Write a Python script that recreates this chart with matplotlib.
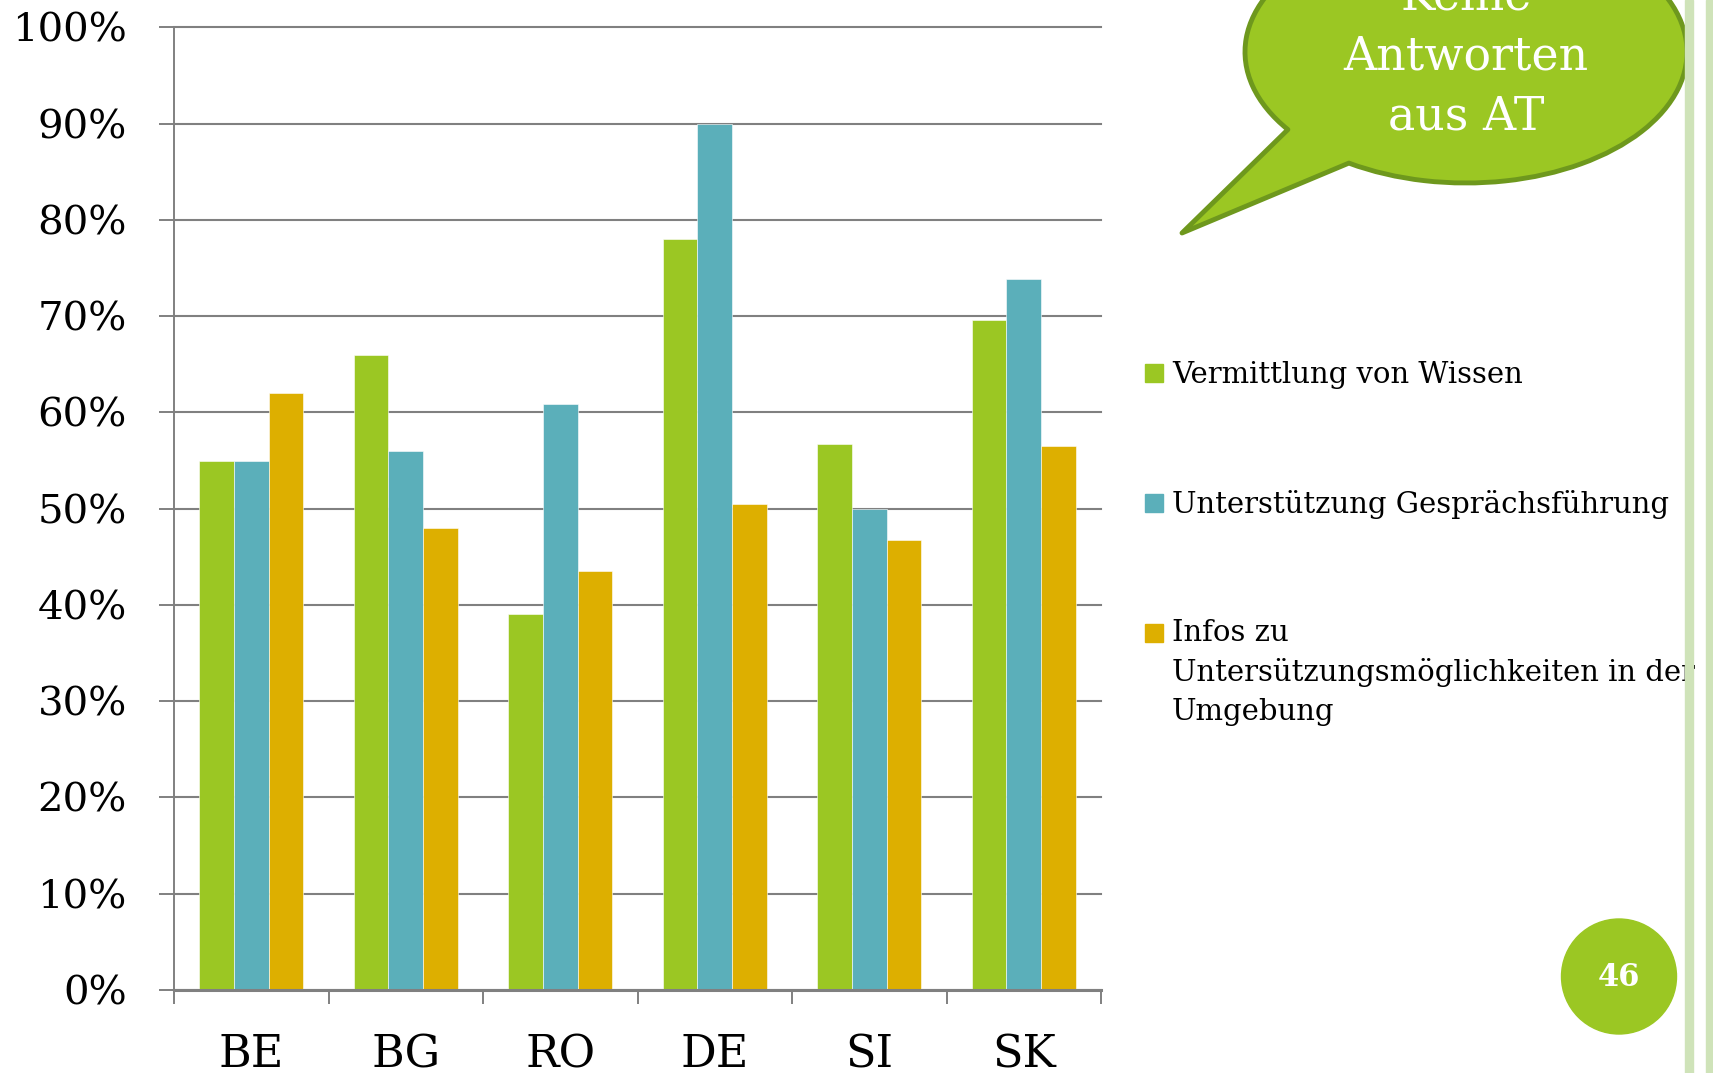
import numpy as np
import matplotlib
matplotlib.use("Agg")
from matplotlib import pyplot as plt
from matplotlib.patches import Rectangle, Circle, PathPatch
from matplotlib.path import Path
from matplotlib.transforms import Affine2D

# Daten
laender = ["BE", "BG", "RO", "DE", "SI", "SK"]
reihen = ["Vermittlung von Wissen",
          "Unterstützung Gesprächsführung",
          "Infos zu\nUntersützungsmöglichkeiten in der\nUmgebung"]
wissen = [0.55, 0.66, 0.391, 0.78, 0.567, 0.696]
gespraech = [0.55, 0.56, 0.609, 0.90, 0.50, 0.739]
infos = [0.62, 0.48, 0.435, 0.505, 0.467, 0.565]
y_ticks = np.arange(0, 1.01, 0.1)
y_labels = ["0%", "10%", "20%", "30%", "40%", "50%", "60%", "70%", "80%", "90%", "100%"]

farben = ["#9BC723", "#5BAFBA", "#DDAF00"]
grau = "#808080"
plt.rcParams["font.family"] = ["DejaVu Serif"]

W, H = 1713, 1073
fig = plt.figure(figsize=(W / 100, H / 100), dpi=100)
ax = fig.add_axes([174 / W, 1 - 990 / H, (1101 - 174) / W, (990 - 27.3) / H])

x = np.arange(len(laender))
b = 0.224
for i, werte in enumerate([wissen, gespraech, infos]):
    ax.bar(x + (i - 1) * b, werte, width=b, color=farben[i],
           edgecolor="white", linewidth=0.4, zorder=3)

ax.set_xlim(-0.5, len(laender) - 0.5)
ax.set_ylim(0, 1)
ax.set_yticks(y_ticks)
ax.set_yticklabels(y_labels, fontsize=29)
ax.tick_params(axis="y", length=11, width=1.4, color=grau, pad=23)
ax.set_xticks(np.arange(-0.5, len(laender), 1))
ax.set_xticklabels([])
ax.tick_params(axis="x", which="major", length=10, width=1.4, color=grau)
ax.set_xticks(x, minor=True)
ax.set_xticklabels(laender, minor=True, fontsize=32)
ax.tick_params(axis="x", which="minor", length=0, pad=31)

ax.yaxis.grid(True, color=grau, linewidth=1.5, zorder=0)
for gl in ax.get_ygridlines():
    gl.set_clip_on(False)
ax.set_axisbelow(True)
for s in ["top", "right"]:
    ax.spines[s].set_visible(False)
ax.spines["left"].set_color(grau)
ax.spines["left"].set_linewidth(1.4)
ax.spines["bottom"].set_color(grau)
ax.spines["bottom"].set_linewidth(2.2)
ax.spines["bottom"].set_zorder(4)

# Overlay in Pixeln
ov = fig.add_axes([0, 0, 1, 1], zorder=5)
ov.set_xlim(0, W)
ov.set_ylim(H, 0)
ov.axis("off")

# Legende (Baseline der letzten Zeile)
zeilenabstand = 38.5
for i, name in enumerate(reihen):
    yb = 383 + i * 130
    n = name.count("\n")
    ov.add_patch(Rectangle((1145, yb - 19), 18, 18, color=farben[i]))
    ov.text(1172, yb + n * zeilenabstand, name, fontsize=21, va="baseline",
            ha="left", linespacing=1.48)

# Sprechblase
cx, cy, a, bb = 1466, 52, 221, 131
t1, t2 = 143.7, 122.0
arc = Path.arc(t1, t2 + 360)
verts = Affine2D().scale(a, bb).translate(cx, cy).transform(arc.vertices)
codes = list(arc.codes)
p1 = verts[0]
verts = list(verts) + [(1182, 233), tuple(p1), tuple(p1)]
codes = codes + [Path.LINETO, Path.LINETO, Path.CLOSEPOLY]
ov.add_patch(PathPatch(Path(verts, codes), facecolor="#9BC723", edgecolor="#6E981D",
                       linewidth=3.5, joinstyle="round"))
ov.text(cx, 129, "Keine\nAntworten\naus AT", fontsize=33, color="white",
        ha="center", va="baseline", linespacing=1.39)

# Seitenzahl
ov.add_patch(Circle((1619, 976.5), 57.5, color="#9BC723"))
ov.text(1619, 978, "46", fontsize=22, fontweight="bold", color="white",
        ha="center", va="center")

# Streifen rechts
ov.add_patch(Rectangle((1685, 0), 8, H, color="#CFE3B9", zorder=10))
ov.add_patch(Rectangle((1706, 0), 7, H, color="#CFE3B9", zorder=10))

plt.savefig("out.png", dpi=100)
